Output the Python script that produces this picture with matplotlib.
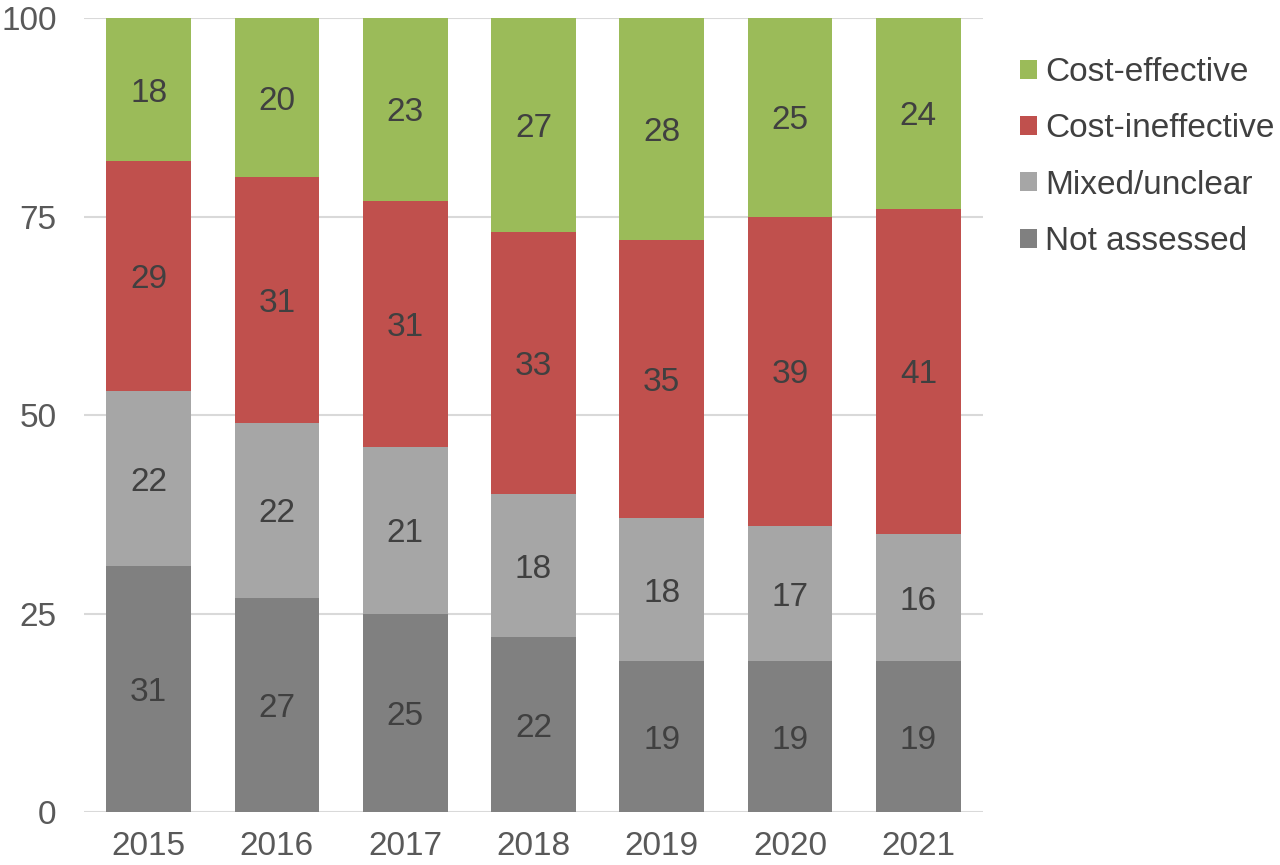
import matplotlib.pyplot as plt
import numpy as np

plt.rcParams['font.family'] = ['Liberation Sans', 'DejaVu Sans']

years = ['2015', '2016', '2017', '2018', '2019', '2020', '2021']
not_assessed = [31, 27, 25, 22, 19, 19, 19]
mixed = [22, 22, 21, 18, 18, 17, 16]
ineffective = [29, 31, 31, 33, 35, 39, 41]
effective = [18, 20, 23, 27, 28, 25, 24]

series = [
    ('Not assessed', not_assessed, '#808080'),
    ('Mixed/unclear', mixed, '#A6A6A6'),
    ('Cost-ineffective', ineffective, '#C0504D'),
    ('Cost-effective', effective, '#9BBB59'),
]

text_color = '#404040'
tick_color = '#595959'

fig = plt.figure(figsize=(12.8, 8.65), dpi=100)
ax = fig.add_axes([0.066, 0.0613, 0.7016, 0.9177])

x = np.arange(len(years))
bottom = np.zeros(len(years))
handles = []
for name, vals, color in series:
    vals = np.array(vals, dtype=float)
    bars = ax.bar(x, vals, width=0.66, bottom=bottom, color=color, label=name, zorder=3)
    handles.append(bars)
    for xi, b, v in zip(x, bottom, vals):
        ax.text(xi, b + v / 2, f'{int(v)}', ha='center', va='center_baseline',
                fontsize=24, color=text_color, zorder=4)
    bottom += vals

ax.set_xlim(-0.5, len(years) - 0.5)
ax.set_ylim(0, 100)
ax.set_yticks([0, 25, 50, 75, 100])
ax.set_xticks(x)
ax.set_xticklabels(years)
ax.tick_params(axis='both', length=0, labelsize=24, colors=tick_color)
ax.tick_params(axis='y', pad=20)
ax.tick_params(axis='x', pad=14)
ax.grid(axis='y', color='#D9D9D9', linewidth=1.5, zorder=0)
for s in ax.spines.values():
    s.set_visible(False)

leg = fig.legend(handles[::-1], [s[0] for s in series][::-1],
                 loc='upper left', bbox_to_anchor=(1020 / 1280, 1 - 57 / 865),
                 borderaxespad=0, borderpad=0,
                 frameon=False, fontsize=24, handlelength=0.5, handleheight=0.5,
                 handletextpad=0.25, labelspacing=0.76, labelcolor=text_color)

fig.savefig('out.png', dpi=100)
